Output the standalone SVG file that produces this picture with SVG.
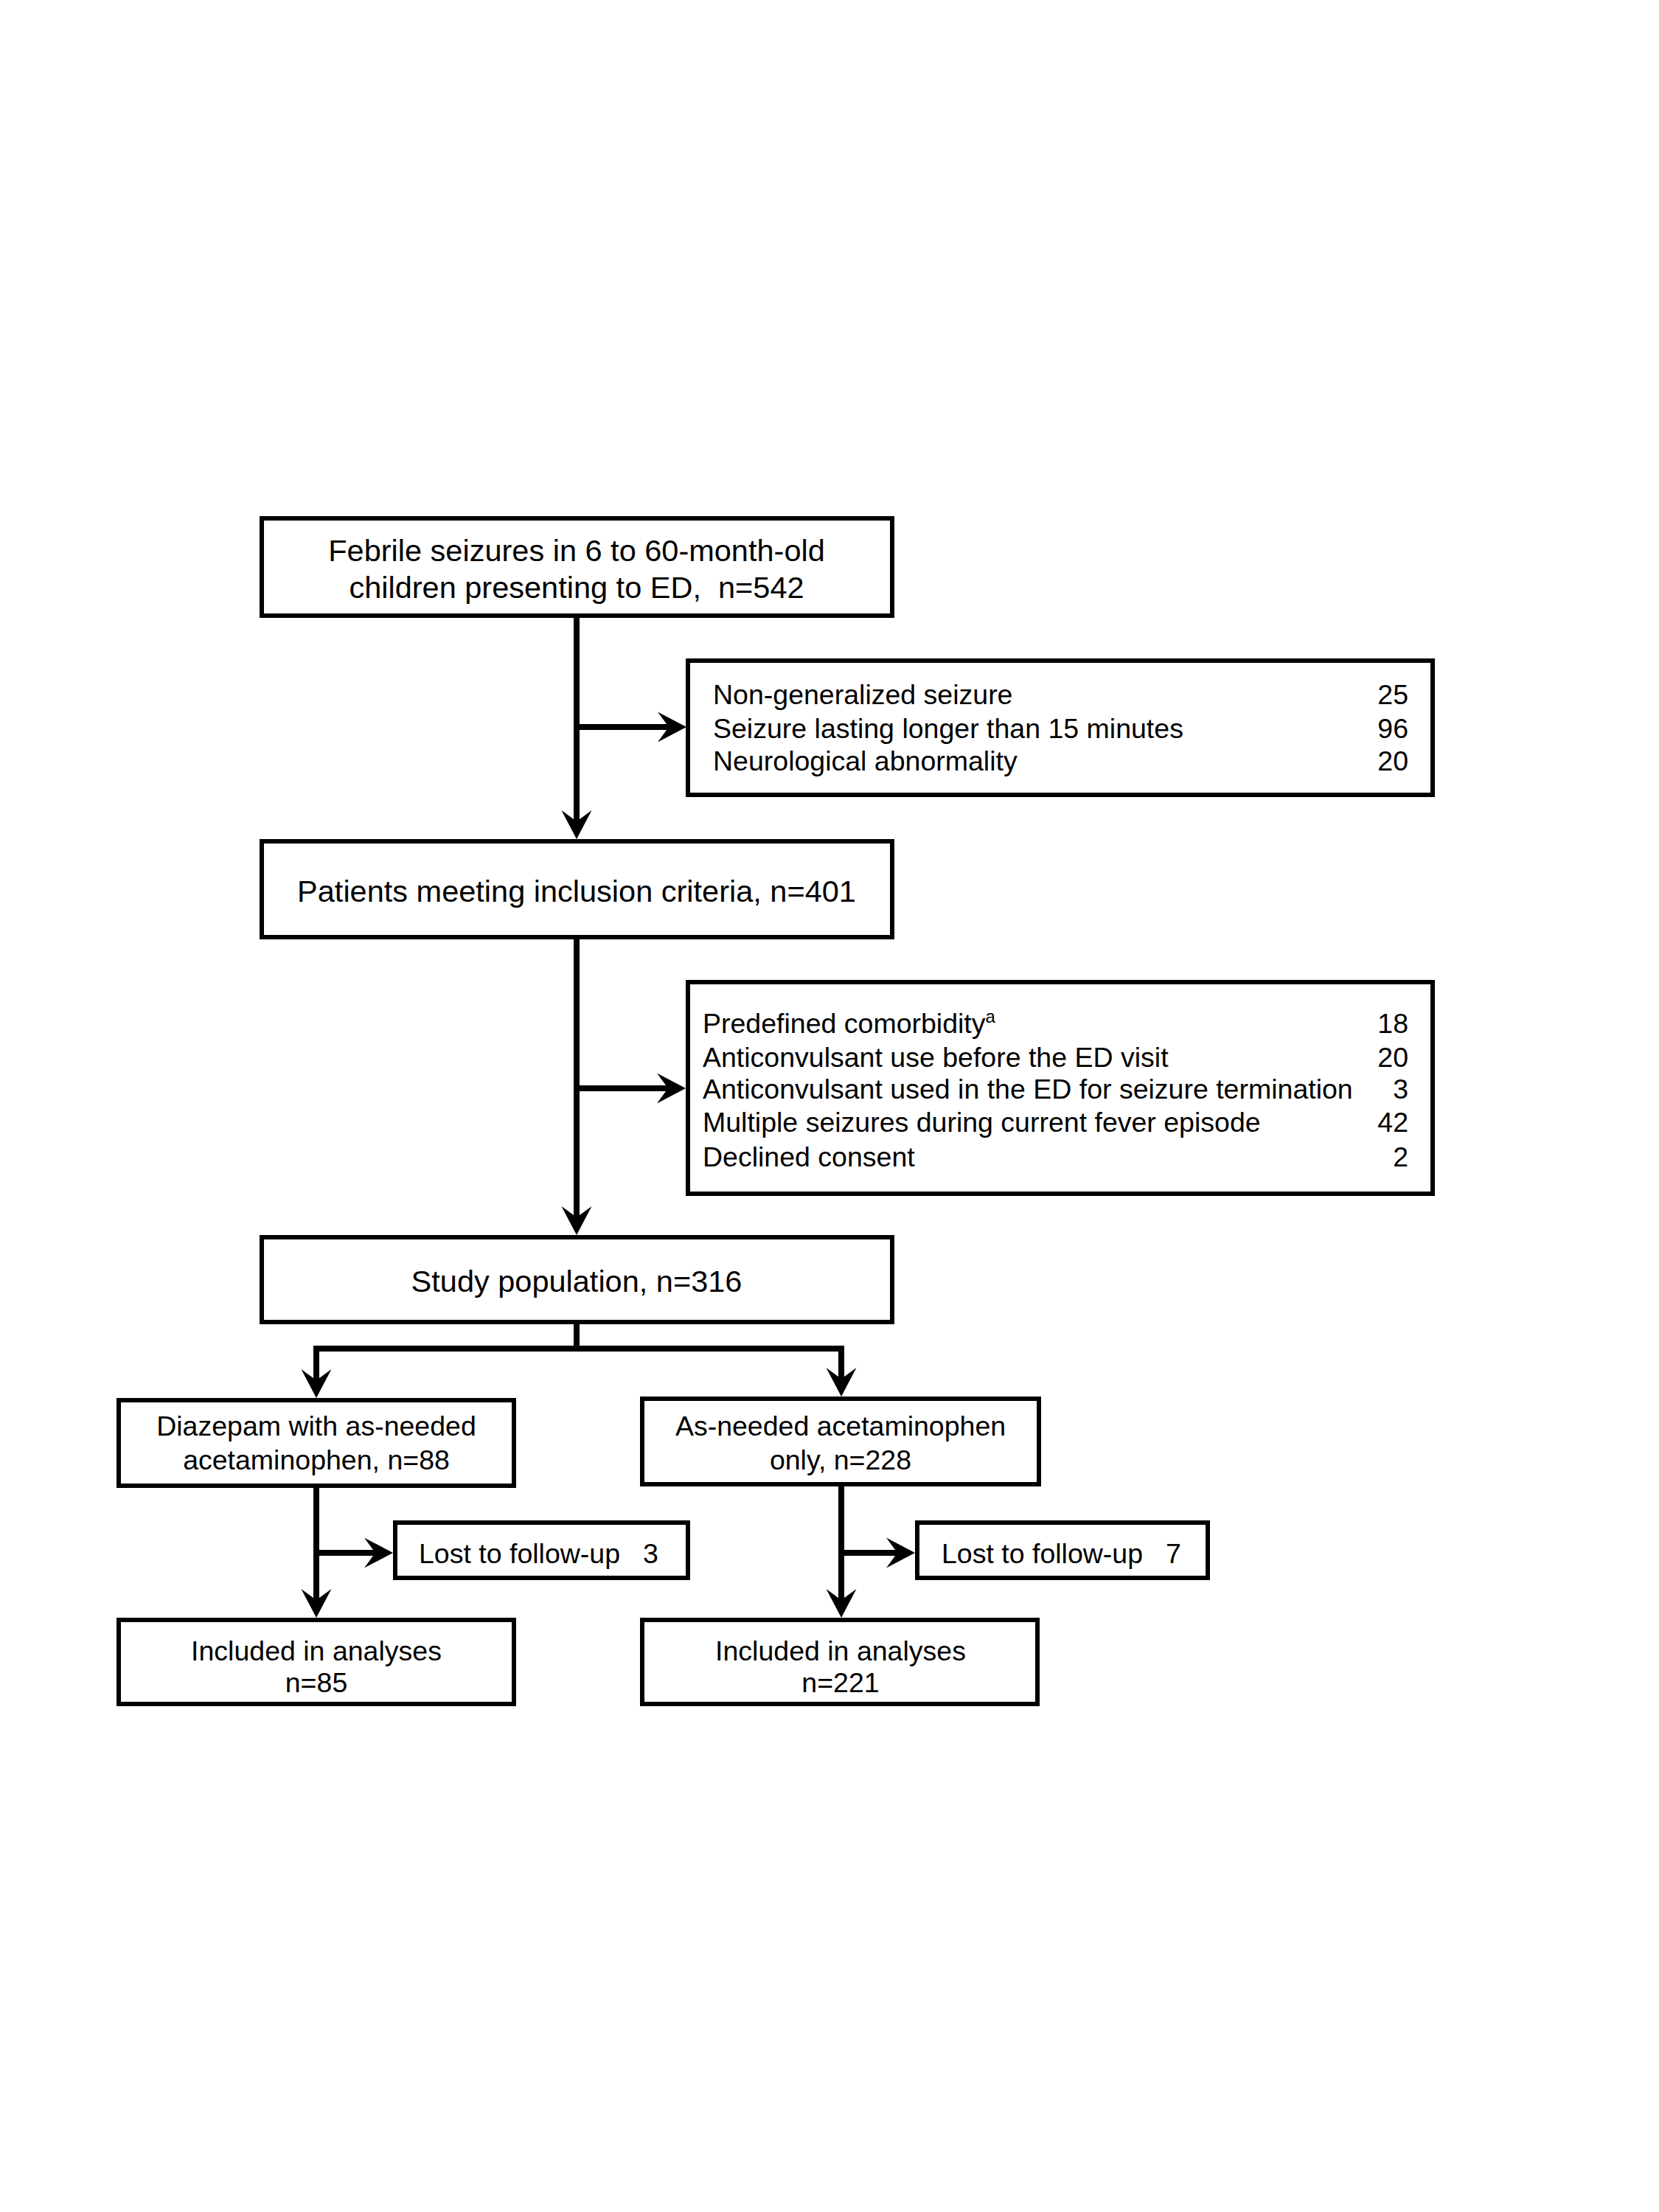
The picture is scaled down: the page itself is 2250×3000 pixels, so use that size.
<svg xmlns="http://www.w3.org/2000/svg" width="2250" height="3000" viewBox="0 0 2250 3000">
<style>
.box{fill:#fff;stroke:#000;stroke-width:6}
.t42{font-family:"Liberation Sans",Arial,sans-serif;font-size:41.5px;fill:#000}
.t38{font-family:"Liberation Sans",Arial,sans-serif;font-size:37.5px;fill:#000}
.c{text-anchor:middle}
.r{text-anchor:end}
.ln{fill:none;stroke:#000;stroke-width:8;stroke-linecap:square}
.arr{fill:none;stroke:#000;stroke-width:8;marker-end:url(#ah)}
</style>
<defs>
<marker id="ah" markerUnits="userSpaceOnUse" viewBox="0 -22 42 44" markerWidth="42" markerHeight="44" refX="15" refY="0" orient="auto" overflow="visible">
<path d="M0,-20.5 L39,0 L0,20.5 L15,0 Z" fill="#000"/>
</marker>
</defs>
<rect width="2250" height="3000" fill="#fff"/>
<g id="connectors">
<line class="arr" x1="782" y1="835" x2="782" y2="1114"/>
<line class="arr" x1="782" y1="986" x2="907" y2="986"/>
<line class="arr" x1="782" y1="1271" x2="782" y2="1651"/>
<line class="arr" x1="782" y1="1476" x2="906" y2="1476"/>
<line class="ln" x1="782" y1="1793" x2="782" y2="1829"/>
<line class="ln" x1="429" y1="1829" x2="1141" y2="1829"/>
<line class="arr" x1="429" y1="1829" x2="429" y2="1872"/>
<line class="arr" x1="1141" y1="1829" x2="1141" y2="1870"/>
<line class="arr" x1="429" y1="2015" x2="429" y2="2170"/>
<line class="arr" x1="429" y1="2106" x2="509" y2="2106"/>
<line class="arr" x1="1141" y1="2013" x2="1141" y2="2170"/>
<line class="arr" x1="1141" y1="2106" x2="1217" y2="2106"/>
</g>
<g id="febrile">
<rect class="box" x="355" y="703" width="855" height="132"/>
<text class="t42 c" x="782" y="761">Febrile seizures in 6 to 60-month-old</text>
<text class="t42 c" x="782" y="811" xml:space="preserve">children presenting to ED,  n=542</text>
</g>
<g id="excl1">
<rect class="box" x="933" y="896" width="1010" height="182"/>
<text class="t38" x="967" y="955">Non-generalized seizure</text>
<text class="t38 r" x="1910" y="955">25</text>
<text class="t38" x="967" y="1001">Seizure lasting longer than 15 minutes</text>
<text class="t38 r" x="1910" y="1001">96</text>
<text class="t38" x="967" y="1045">Neurological abnormality</text>
<text class="t38 r" x="1910" y="1045">20</text>
</g>
<g id="inclusion">
<rect class="box" x="355" y="1141" width="855" height="130"/>
<text class="t42 c" x="782" y="1223">Patients meeting inclusion criteria, n=401</text>
</g>
<g id="excl2">
<rect class="box" x="933" y="1332" width="1010" height="287"/>
<text class="t38" x="953" y="1401">Predefined comorbidity<tspan font-size="24" dy="-14">a</tspan></text>
<text class="t38 r" x="1910" y="1401">18</text>
<text class="t38" x="953" y="1447">Anticonvulsant use before the ED visit</text>
<text class="t38 r" x="1910" y="1447">20</text>
<text class="t38" x="953" y="1490">Anticonvulsant used in the ED for seizure termination</text>
<text class="t38 r" x="1910" y="1490">3</text>
<text class="t38" x="953" y="1535">Multiple seizures during current fever episode</text>
<text class="t38 r" x="1910" y="1535">42</text>
<text class="t38" x="953" y="1582">Declined consent</text>
<text class="t38 r" x="1910" y="1582">2</text>
</g>
<g id="study">
<rect class="box" x="355" y="1678" width="855" height="115"/>
<text class="t42 c" x="782" y="1752">Study population, n=316</text>
</g>
<g id="diazepam">
<rect class="box" x="161" y="1899" width="536" height="116"/>
<text class="t38 c" x="429" y="1947">Diazepam with as-needed</text>
<text class="t38 c" x="429" y="1993">acetaminophen, n=88</text>
</g>
<g id="acetaminophen">
<rect class="box" x="871" y="1897" width="538" height="116"/>
<text class="t38 c" x="1140" y="1947">As-needed acetaminophen</text>
<text class="t38 c" x="1140" y="1993">only, n=228</text>
</g>
<g id="lost1">
<rect class="box" x="536" y="2065" width="397" height="75"/>
<text class="t38" x="568" y="2120">Lost to follow-up</text>
<text class="t38" x="872" y="2120">3</text>
</g>
<g id="lost2">
<rect class="box" x="1244" y="2065" width="394" height="75"/>
<text class="t38" x="1277" y="2120">Lost to follow-up</text>
<text class="t38" x="1581" y="2120">7</text>
</g>
<g id="incl1">
<rect class="box" x="161" y="2197" width="536" height="114"/>
<text class="t38 c" x="429" y="2252">Included in analyses</text>
<text class="t38 c" x="429" y="2295">n=85</text>
</g>
<g id="incl2">
<rect class="box" x="871" y="2197" width="536" height="114"/>
<text class="t38 c" x="1140" y="2252">Included in analyses</text>
<text class="t38 c" x="1140" y="2295">n=221</text>
</g>
</svg>
